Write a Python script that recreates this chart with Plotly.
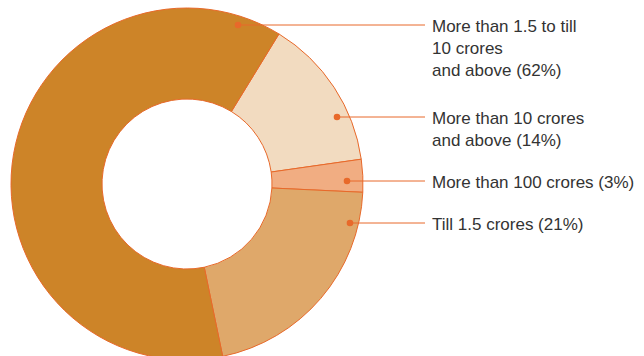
import plotly.graph_objects as go

# Data
categories = [
    "More than 10 crores<br>and above",
    "More than 100 crores",
    "Till 1.5 crores",
    "More than 1.5 to till<br>10 crores<br>and above",
]
values = [14, 3, 21, 62]
colors = ["#F2DBC0", "#F1AD82", "#DFA86A", "#CD8428"]

# Layout constants (pixel positions of leader dots / label rows)
W, H = 644, 360
label_rows = [117, 181, 223, 25]
dot_x = [337, 347, 350, 238]
line_end_x = 425
text_x = 430
accent = "#E8692A"

fig = go.Figure()

fig.add_trace(go.Pie(
    labels=[c.replace("<br>", " ") for c in categories],
    values=values,
    sort=False,
    direction="clockwise",
    rotation=31.5,
    hole=0.483,
    marker=dict(colors=colors, line=dict(color=accent, width=1)),
    textinfo="none",
    hoverinfo="skip",
    showlegend=False,
    domain=dict(x=[11 / W, 363 / W], y=[0, 352 / H]),
))

# invisible trace to establish the pixel-mapped cartesian axes
fig.add_trace(go.Scatter(x=[0, W], y=[0, H], mode="markers",
                         marker=dict(opacity=0), hoverinfo="skip", showlegend=False))

r = 3.3
for cat, v, y, dx in zip(categories, values, label_rows, dot_x):
    fig.add_shape(type="line", x0=dx, x1=line_end_x, y0=y, y1=y,
                  xref="x", yref="y", layer="above",
                  line=dict(color=accent, width=1))
    fig.add_shape(type="circle", x0=dx - r, x1=dx + r, y0=y - r, y1=y + r,
                  xref="x", yref="y", layer="above",
                  fillcolor=accent, line=dict(width=0))
    fig.add_annotation(
        x=text_x, y=y - 10, xref="x", yref="y",
        text=f"{cat} ({v}%)", showarrow=False,
        xanchor="left", yanchor="top", align="left",
        font=dict(family="Liberation Sans", size=17, color="#333333"),
    )

fig.update_layout(
    width=W, height=H,
    margin=dict(l=0, r=0, t=0, b=0),
    paper_bgcolor="white", plot_bgcolor="rgba(0,0,0,0)",
    xaxis=dict(range=[0, W], visible=False, fixedrange=True),
    yaxis=dict(range=[H, 0], visible=False, fixedrange=True),
)

fig.write_html(
    "out.html",
    config={"displayModeBar": False},
    post_script="document.body.style.margin='0';document.body.style.overflow='hidden';document.documentElement.style.overflow='hidden';",
)
